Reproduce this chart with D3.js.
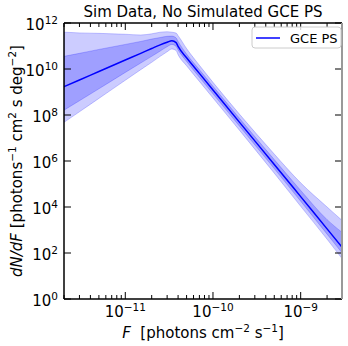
<!DOCTYPE html>
<html><head><meta charset="utf-8">
<script src="https://cdn.jsdelivr.net/npm/d3@7"></script>
<style>body{margin:0;background:#fff}svg{display:block;font-family:"DejaVu Sans",sans-serif}</style>
</head><body><svg id="c" width="348" height="346"></svg>
<script>
const fluxes   = [2e-12,3e-12,5e-12,1e-11,1.5e-11,2e-11,2.5e-11,3e-11,3.4e-11,3.8e-11,4e-11,5e-11,7e-11,1e-10,2e-10,5e-10,1e-9,2e-9,3e-9];
const median   = [1.70e9,3.31e9,7.76e9,2.45e10,4.79e10,7.76e10,1.12e11,1.45e11,1.70e11,1.41e11,9.55e10,3.09e10,6.46e9,1.23e9,4.9e7,7.08e5,2.82e4,1.12e3,170];
const outerHi  = [3.98e11,3.72e11,3.55e11,3.24e11,3.02e11,3.39e11,3.98e11,4.17e11,3.98e11,3.63e11,2.82e11,7.76e10,1.45e10,2.63e9,1.10e8,2.0e6,1.12e5,1.0e4,2.51e3];
const innerHi  = [3.55e10,4.79e10,7.08e10,1.17e11,1.58e11,2.0e11,2.34e11,2.63e11,2.69e11,2.24e11,1.58e11,4.47e10,9.33e9,1.78e9,7.24e7,1.15e6,5.25e4,2.82e3,759];
const innerLo  = [1.62e8,4.17e8,1.38e9,7.08e9,1.82e10,3.55e10,6.03e10,9.33e10,1.17e11,9.55e10,6.76e10,2.14e10,4.37e9,8.32e8,3.31e7,4.68e5,1.78e4,661,95.5];
const outerLo  = [4.79e7,1.38e8,5.25e8,3.24e9,9.33e9,1.95e10,3.55e10,5.62e10,7.41e10,6.31e10,4.17e10,1.38e10,2.88e9,5.5e8,2.19e7,2.95e5,1.07e4,398,53.7];
const xMajor   = [1e-11,1e-10,1e-9];
const xMajorLabels = ["\u221211","\u221210","\u22129"];
const yMajor   = [1,1e2,1e4,1e6,1e8,1e10,1e12];
const yMajorLabels = ["0","2","4","6","8","10","12"];
const titleText = "Sim Data, No Simulated GCE PS";
const seriesName = "GCE PS";

const L=64,R=342,T=23,B=299;
const svg=d3.select("#c");
const x=d3.scaleLog().domain([2e-12,2.96e-9]).range([L,R]);
const y=d3.scaleLog().domain([1,1e12]).range([B,T]);
const rows=fluxes.map((f,i)=>({f,m:median[i],oh:outerHi[i],ih:innerHi[i],il:innerLo[i],ol:outerLo[i]}));

svg.append("clipPath").attr("id","clip").append("rect").attr("x",L).attr("y",T).attr("width",R-L).attr("height",B-T);
const g=svg.append("g").attr("clip-path","url(#clip)");
const curve=d3.curveMonotoneX;
const area=(lo,hi)=>d3.area().x(d=>x(d.f)).y0(d=>y(d[lo])).y1(d=>y(d[hi])).curve(curve);
const blue="#0000ff";
g.append("path").attr("d",area("ol","oh")(rows)).attr("fill",blue).attr("fill-opacity",0.2).attr("stroke",blue).attr("stroke-opacity",0.2).attr("stroke-width",1);
g.append("path").attr("d",area("il","ih")(rows)).attr("fill",blue).attr("fill-opacity",0.22).attr("stroke",blue).attr("stroke-opacity",0.2).attr("stroke-width",1);
g.append("path").attr("d",d3.line().x(d=>x(d.f)).y(d=>y(d.m)).curve(curve)(rows)).attr("fill","none").attr("stroke",blue).attr("stroke-width",1.5);

// ticks
const ax=svg.append("g").attr("stroke","#000").attr("stroke-width",1);
const minors=[];
for(let e=-12;e<=-9;e++)for(let k=2;k<=9;k++){const v=k*Math.pow(10,e);if(v>=2e-12&&v<=2.96e-9)minors.push(v);}
minors.forEach(v=>{const px=x(v);ax.append("line").attr("x1",px).attr("x2",px).attr("y1",B).attr("y2",B-4);ax.append("line").attr("x1",px).attr("x2",px).attr("y1",T).attr("y2",T+4);});
xMajor.forEach(v=>{const px=x(v);ax.append("line").attr("x1",px).attr("x2",px).attr("y1",B).attr("y2",B-7);ax.append("line").attr("x1",px).attr("x2",px).attr("y1",T).attr("y2",T+7);});
yMajor.forEach(v=>{const py=y(v);ax.append("line").attr("x1",L).attr("x2",L+7).attr("y1",py).attr("y2",py);ax.append("line").attr("x1",R).attr("x2",R-7).attr("y1",py).attr("y2",py);});

// spines
svg.append("line").attr("x1",L).attr("x2",R).attr("y1",B).attr("y2",B).attr("stroke","#000").attr("stroke-width",1.5);
svg.append("line").attr("x1",L).attr("x2",R).attr("y1",T).attr("y2",T).attr("stroke","#000").attr("stroke-width",1.5);
svg.append("line").attr("x1",L).attr("x2",L).attr("y1",T).attr("y2",B).attr("stroke","#000").attr("stroke-width",1.5);
svg.append("line").attr("x1",R).attr("x2",R).attr("y1",T).attr("y2",B).attr("stroke","#999").attr("stroke-width",2);

// tick labels
const fs=15;
xMajor.forEach((v,i)=>{const t=svg.append("text").attr("x",x(v)).attr("y",317).attr("text-anchor","middle").attr("font-size",fs);
  t.append("tspan").text("10");t.append("tspan").attr("dy",-6).attr("font-size",fs*0.7).text(xMajorLabels[i]);});
yMajor.forEach((v,i)=>{const t=svg.append("text").attr("x",L-6).attr("y",y(v)+7).attr("text-anchor","end").attr("font-size",fs);
  t.append("tspan").text("10");t.append("tspan").attr("dy",-6).attr("font-size",fs*0.7).text(yMajorLabels[i]);});

// title
svg.append("text").attr("x",(L+R)/2).attr("y",17).attr("text-anchor","middle").attr("font-size",15).text(titleText);

// x label
const xl=svg.append("text").attr("x",(L+R)/2).attr("y",338).attr("text-anchor","middle").attr("font-size",15);
xl.append("tspan").attr("font-style","italic").text("F");
xl.append("tspan").text("\u00a0 [photons cm");
xl.append("tspan").attr("dy",-6).attr("font-size",10.5).text("\u22122");
xl.append("tspan").attr("dy",6).text(" s");
xl.append("tspan").attr("dy",-6).attr("font-size",10.5).text("\u22121");
xl.append("tspan").attr("dy",6).text("]");

// y label
const yl=svg.append("text").attr("transform",`translate(22,${(T+B)/2}) rotate(-90)`).attr("text-anchor","middle").attr("font-size",15);
yl.append("tspan").attr("font-style","italic").text("dN/dF");
yl.append("tspan").text(" [photons");
yl.append("tspan").attr("dy",-6).attr("font-size",10.5).text("\u22121");
yl.append("tspan").attr("dy",6).text(" cm");
yl.append("tspan").attr("dy",-6).attr("font-size",10.5).text("2");
yl.append("tspan").attr("dy",6).text(" s deg");
yl.append("tspan").attr("dy",-6).attr("font-size",10.5).text("\u22122");
yl.append("tspan").attr("dy",6).text("]");

// legend
const lg=svg.append("g");
lg.append("rect").attr("x",252).attr("y",27).attr("width",89).attr("height",21).attr("rx",3).attr("fill","#fff").attr("fill-opacity",0.8).attr("stroke","#ccc").attr("stroke-width",1);
lg.append("line").attr("x1",256).attr("x2",280).attr("y1",38).attr("y2",38).attr("stroke",blue).attr("stroke-width",1.5);
lg.append("text").attr("x",290).attr("y",42.5).attr("font-size",13).text(seriesName);
</script></body></html>
